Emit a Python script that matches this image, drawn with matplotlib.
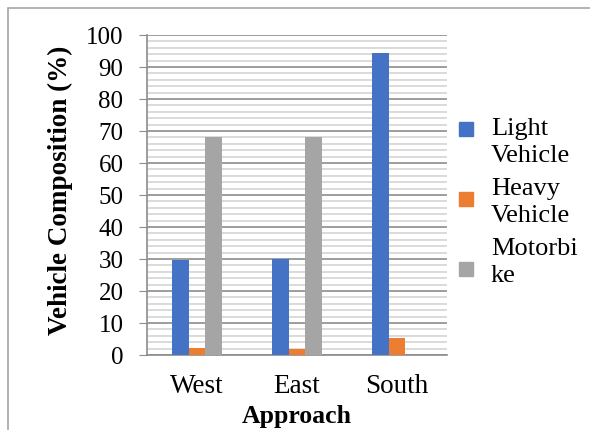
import matplotlib
matplotlib.use("Agg")
import matplotlib.pyplot as plt
from matplotlib.patches import Rectangle
from matplotlib.ticker import MultipleLocator
import numpy as np

categories = ["West", "East", "South"]
series_names = ["Light\nVehicle", "Heavy\nVehicle", "Motorbi\nke"]
light_vehicle = [29.8, 30.0, 94.3]
heavy_vehicle = [2.2, 1.9, 5.3]
motorbike = [68.0, 68.0, 0.0]
colors = ["#4472C4", "#ED7D31", "#A5A5A5"]
y_ticks = list(range(0, 101, 10))

plt.rcParams['font.family'] = ['Liberation Serif', 'DejaVu Serif']

fig = plt.figure(figsize=(5.9, 4.3), dpi=100)
ax = fig.add_axes([147/590, 1-355/430, 300/590, 320/430])

x = np.arange(len(categories))
w = 0.167
all_series = [light_vehicle, heavy_vehicle, motorbike]
for i, (vals, c) in enumerate(zip(all_series, colors)):
    ax.bar(x + (i-1)*w, vals, width=w, color=c, zorder=3, linewidth=0)

ax.set_xlim(-0.5, 2.5)
ax.set_ylim(0, 100)
ax.set_yticks(y_ticks)
ax.yaxis.set_minor_locator(MultipleLocator(2))
ax.grid(which='major', axis='y', color='#8c8c8c', linewidth=1.2, zorder=0)
ax.grid(which='minor', axis='y', color='#d4d4d4', linewidth=1.2, zorder=0)
ax.set_xticks(x)
ax.set_xticklabels(categories, fontsize=19.5)
ax.tick_params(axis='y', which='major', length=6, color='#8c8c8c', labelsize=18, pad=11)
ax.tick_params(axis='y', which='minor', length=0)
ax.tick_params(axis='x', length=0, pad=13.5)
for s in ['top', 'right']:
    ax.spines[s].set_visible(False)
for s in ['left', 'bottom']:
    ax.spines[s].set_color('#8c8c8c')
    ax.spines[s].set_linewidth(1.2)
ax.set_xlabel("Approach", fontsize=18.5, fontweight='bold')
ax.xaxis.label.set_va('baseline')
ax.xaxis.set_label_coords(297/590, 1-423/430, transform=fig.transFigure)
ax.set_ylabel("Vehicle Composition (%)", fontsize=19.5, fontweight='bold')
ax.yaxis.label.set_va('center')
ax.yaxis.set_label_coords(60/590, 1-190/430, transform=fig.transFigure)

# legend
legend_y = [129, 199, 269]
text_y = [142.5, 202.5, 262.5]
for name, c, my, ty in zip(series_names, colors, legend_y, text_y):
    fig.patches.append(Rectangle((459/590, 1-(my+7)/430), 14/590, 14/430,
                                 transform=fig.transFigure, color=c))
    fig.text(491/590, 1-ty/430, name, fontsize=19, va='center', ha='left',
             linespacing=1.35)

# outer frame
fig.patches.append(Rectangle((8/590, -0.1), 1.2, 1-8/430+0.1, transform=fig.transFigure,
                             fill=False, edgecolor='#a6a6a6', linewidth=1.2))

fig.savefig("out.png", dpi=100)
